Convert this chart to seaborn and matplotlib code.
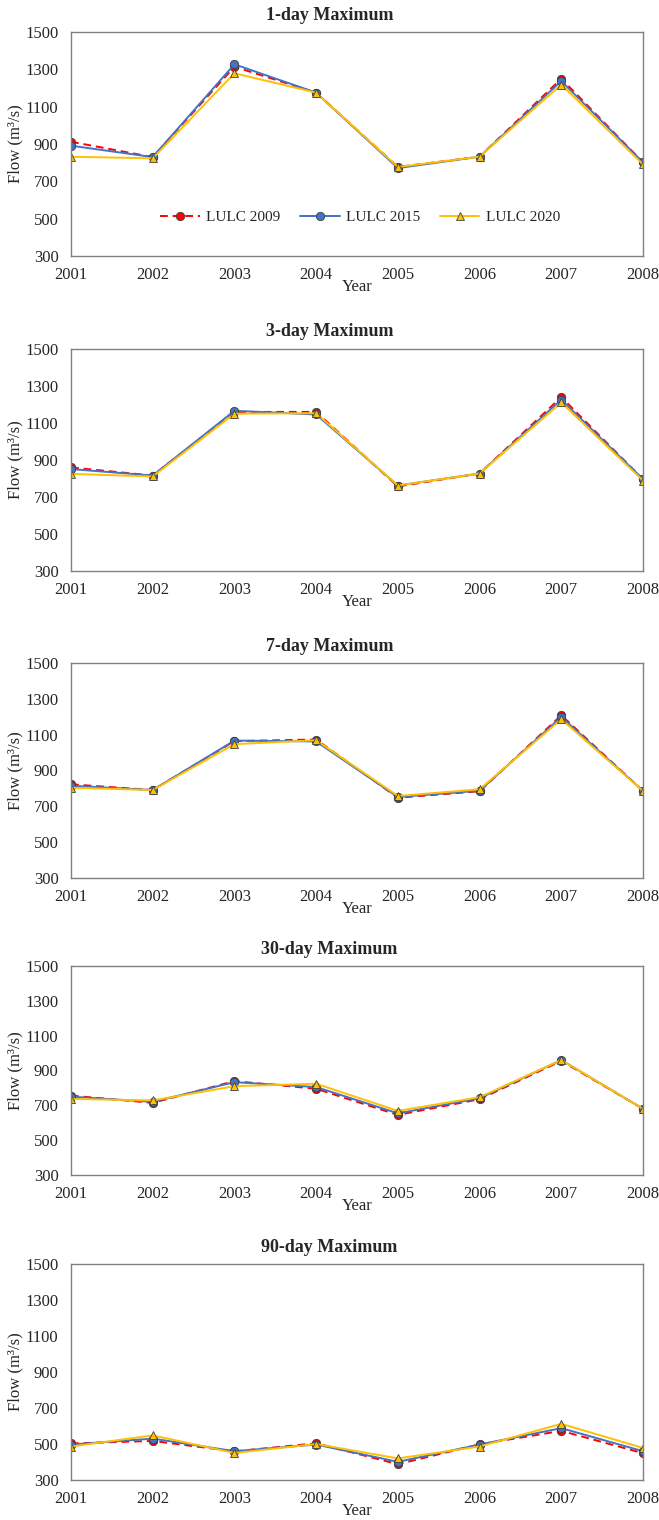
import matplotlib
matplotlib.use("Agg")
import matplotlib.pyplot as plt
import pandas as pd
import seaborn as sns

sns.set_style("white")
plt.rcParams['font.family'] = ['Liberation Serif', 'DejaVu Serif']

# data
years = [2001, 2002, 2003, 2004, 2005, 2006, 2007, 2008]
scenarios = ["LULC 2009", "LULC 2015", "LULC 2020"]
titles = ["1-day Maximum", "3-day Maximum", "7-day Maximum", "30-day Maximum", "90-day Maximum"]

max1_2009 = [912, 830, 1314, 1175, 777, 832, 1250, 802]
max1_2015 = [891, 830, 1327, 1175, 771, 832, 1237, 802]
max1_2020 = [832, 823, 1279, 1175, 777, 832, 1218, 791]

max3_2009 = [860, 816, 1160, 1160, 757, 827, 1240, 796]
max3_2015 = [851, 816, 1166, 1146, 762, 827, 1226, 796]
max3_2020 = [825, 811, 1150, 1153, 762, 827, 1211, 789]

max7_2009 = [823, 791, 1064, 1073, 748, 784, 1208, 786]
max7_2015 = [815, 791, 1067, 1062, 752, 787, 1199, 786]
max7_2020 = [804, 791, 1047, 1069, 758, 795, 1186, 786]

max30_2009 = [756, 714, 839, 795, 645, 735, 955, 680]
max30_2015 = [750, 720, 833, 805, 654, 741, 960, 680]
max30_2020 = [737, 728, 810, 824, 668, 747, 960, 680]

max90_2009 = [503, 517, 459, 504, 388, 498, 573, 449]
max90_2015 = [497, 530, 460, 497, 401, 497, 588, 460]
max90_2020 = [486, 548, 450, 500, 420, 486, 612, 478]

panels = [
    (max1_2009, max1_2015, max1_2020),
    (max3_2009, max3_2015, max3_2020),
    (max7_2009, max7_2015, max7_2020),
    (max30_2009, max30_2015, max30_2020),
    (max90_2009, max90_2015, max90_2020),
]

palette = {"LULC 2009": "#FF0000", "LULC 2015": "#4472C4", "LULC 2020": "#FFC000"}
markers = {"LULC 2009": "o", "LULC 2015": "o", "LULC 2020": "^"}
dashes = {"LULC 2009": (4, 2.5), "LULC 2015": "", "LULC 2020": ""}

# axes boxes in pixels (top, bottom) of a 659x1520 figure
W, H = 659, 1520
boxes = [(32, 256), (349, 571), (663, 878), (966, 1175), (1264, 1480)]
x0, x1 = 71, 643

fig = plt.figure(figsize=(W / 100, H / 100), dpi=100)

for i, (vals, title) in enumerate(zip(panels, titles)):
    top, bot = boxes[i]
    ax = fig.add_axes([x0 / W, 1 - bot / H, (x1 - x0) / W, (bot - top) / H])

    df = pd.DataFrame({
        "Year": years * 3,
        "Flow": vals[0] + vals[1] + vals[2],
        "Scenario": [s for s in scenarios for _ in years],
    })
    sns.lineplot(data=df, x="Year", y="Flow", hue="Scenario", style="Scenario",
                 palette=palette, markers=markers, dashes=dashes,
                 hue_order=scenarios, style_order=scenarios,
                 linewidth=1.4, markersize=6, markeredgecolor="#404040",
                 markeredgewidth=0.6, ax=ax, legend=(i == 0))

    ax.set_xlim(2001, 2008)
    ax.set_ylim(300, 1500)
    ax.set_yticks(range(300, 1501, 200))
    ax.set_xticks(years)
    ax.tick_params(direction="in", length=3, width=0.8, color="#808080", labelsize=12)
    ax.tick_params(axis="y", pad=9)
    ax.tick_params(axis="x", pad=8)
    for sp in ax.spines.values():
        sp.set_color("#808080")
        sp.set_linewidth(1.0)
    # titles sit at the centre of the page, not of the axes
    fig.text(0.5, 1 - (top - 17) / H, title, fontsize=13, fontweight="bold",
             ha="center", va="center")
    ax.set_xlabel("Year", fontsize=12, labelpad=-3)
    ax.set_ylabel("Flow (m³/s)", fontsize=12, labelpad=1)

    if i == 0:
        ax.legend(loc="center", bbox_to_anchor=(0.505, 0.174), ncol=3, frameon=False,
                  fontsize=11, handlelength=2.6, columnspacing=1.3, handletextpad=0.4)

fig.savefig("out.png", dpi=100)
